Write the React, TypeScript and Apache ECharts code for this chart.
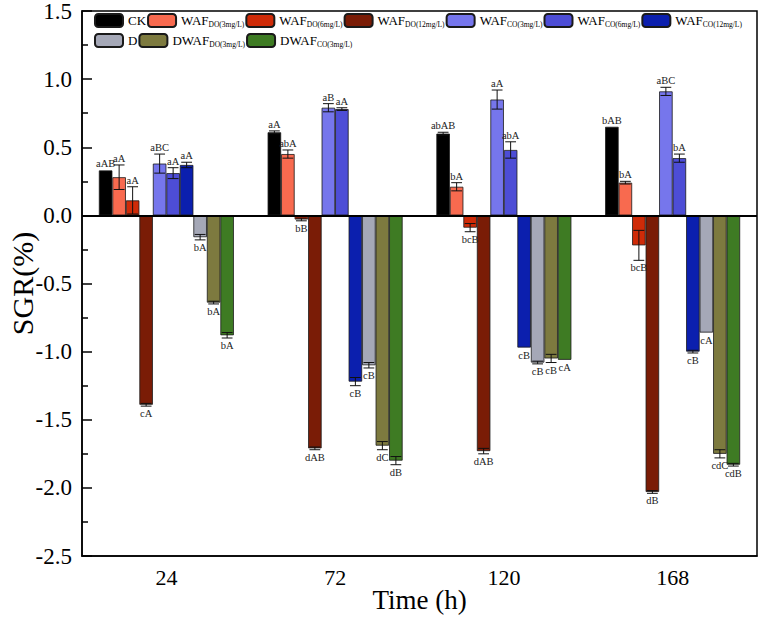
import React, { useEffect, useRef } from 'react';
import * as echarts from 'echarts';

// Time points (h)
const times = ['24', '72', '120', '168'];

const seriesNames = [
  'CK',
  'WAF_DO(3mg/L)',
  'WAF_DO(6mg/L)',
  'WAF_DO(12mg/L)',
  'WAF_CO(3mg/L)',
  'WAF_CO(6mg/L)',
  'WAF_CO(12mg/L)',
  'D',
  'DWAF_DO(3mg/L)',
  'DWAF_CO(3mg/L)',
];

const colors = [
  '#000000', '#f86a4f', '#cf2b08', '#7a1c06', '#7676ec',
  '#4d4dd6', '#0b1fae', '#a5a8b7', '#7d7a3f', '#3e7b23',
];

// SGR means (%)
const ck = [0.33, 0.61, 0.6, 0.65];
const wafDo3 = [0.28, 0.45, 0.21, 0.24];
const wafDo6 = [0.11, -0.03, -0.09, -0.22];
const wafDo12 = [-1.39, -1.71, -1.73, -2.03];
const wafCo3 = [0.38, 0.79, 0.85, 0.91];
const wafCo6 = [0.31, 0.78, 0.48, 0.42];
const wafCo12 = [0.37, -1.22, -0.97, -1.0];
const d = [-0.16, -1.1, -1.08, -0.86];
const dwafDo3 = [-0.64, -1.69, -1.05, -1.75];
const dwafCo3 = [-0.88, -1.8, -1.06, -1.83];

// error bars
const ckErr = [0, 0.01, 0.01, 0];
const wafDo3Err = [0.09, 0.03, 0.03, 0.01];
const wafDo6Err = [0.1, 0.01, 0.03, 0.11];
const wafDo12Err = [0.01, 0.01, 0.02, 0.01];
const wafCo3Err = [0.07, 0.03, 0.07, 0.03];
const wafCo6Err = [0.04, 0.01, 0.06, 0.03];
const wafCo12Err = [0.02, 0.03, 0, 0.01];
const dErr = [0.02, 0.02, 0.01, 0];
const dwafDo3Err = [0.01, 0.03, 0.03, 0.03];
const dwafCo3Err = [0.02, 0.03, 0, 0.01];

// significance letters
const ckSig = ['aAB', 'aA', 'abAB', 'bAB'];
const wafDo3Sig = ['aA', 'abA', 'bA', 'bA'];
const wafDo6Sig = ['aA', 'bB', 'bcB', 'bcB'];
const wafDo12Sig = ['cA', 'dAB', 'dAB', 'dB'];
const wafCo3Sig = ['aBC', 'aB', 'aA', 'aBC'];
const wafCo6Sig = ['aA', 'aA', 'abA', 'bA'];
const wafCo12Sig = ['aA', 'cB', 'cB', 'cB'];
const dSig = ['bA', 'cB', 'cB', 'cA'];
const dwafDo3Sig = ['bA', 'dC', 'cB', 'cdC'];
const dwafCo3Sig = ['bA', 'dB', 'cA', 'cdB'];

const values = [ck, wafDo3, wafDo6, wafDo12, wafCo3, wafCo6, wafCo12, d, dwafDo3, dwafCo3];
const errors = [ckErr, wafDo3Err, wafDo6Err, wafDo12Err, wafCo3Err, wafCo6Err, wafCo12Err, dErr, dwafDo3Err, dwafCo3Err];
const letters = [ckSig, wafDo3Sig, wafDo6Sig, wafDo12Sig, wafCo3Sig, wafCo6Sig, wafCo12Sig, dSig, dwafDo3Sig, dwafCo3Sig];

const FONT = '"Liberation Serif", "Times New Roman", serif';
const CAT_GAP = 0.2;

const App: React.FC = () => {
  const chartRef = useRef<HTMLDivElement | null>(null);

  useEffect(() => {
    document.body.style.margin = '0';
    if (!chartRef.current) return;
    const chart = echarts.init(chartRef.current, undefined, { renderer: 'svg' });

    const errData: number[][] = [];
    values.forEach((vals, si) => vals.forEach((v, ci) => errData.push([ci, si, v, errors[si][ci]])));

    const legendFormatter = (name: string) => {
      const [main, sub] = name.split('_');
      return sub ? `{m|${main}}{s|${sub}}` : `{m|${main}}`;
    };
    const legendText = {
      fontFamily: FONT,
      fontSize: 13,
      color: '#000',
      rich: {
        m: { fontFamily: FONT, fontSize: 13, color: '#000' },
        s: { fontFamily: FONT, fontSize: 7.5, color: '#000', padding: [7, 0, 0, 0] },
      },
    };

    const option = {
      animation: false,
      textStyle: { fontFamily: FONT },
      legend: [
        {
          data: seriesNames.slice(0, 7),
          left: 94,
          top: 13,
          padding: 0,
          itemGap: 1,
          itemWidth: 28,
          itemHeight: 13,
          formatter: legendFormatter,
          textStyle: legendText,
        },
        {
          data: seriesNames.slice(7),
          left: 94,
          top: 33,
          padding: 0,
          itemGap: 1,
          itemWidth: 28,
          itemHeight: 13,
          formatter: legendFormatter,
          textStyle: legendText,
        },
      ],
      grid: {
        left: 82,
        right: 5,
        top: 11,
        bottom: 65,
        outerBoundsMode: 'none',
        containLabel: false,
        show: true,
        borderColor: '#000',
        borderWidth: 1.5,
        backgroundColor: 'transparent',
      },
      xAxis: [
        {
          type: 'category',
          data: times,
          name: 'Time (h)',
          nameLocation: 'middle',
          nameGap: 30,
          nameMoveOverlap: false,
          nameTextStyle: { fontFamily: FONT, fontSize: 27, color: '#000' },
          axisLine: { onZero: false, lineStyle: { color: '#000', width: 1.5 } },
          axisTick: { alignWithLabel: true, inside: true, length: 8, lineStyle: { color: '#000', width: 1.5 } },
          axisLabel: { fontFamily: FONT, fontSize: 22, color: '#000', margin: 10 },
          splitLine: { show: false },
        },
        {
          type: 'category',
          data: times,
          position: 'bottom',
          axisLine: { show: false, onZero: false },
          axisTick: { inside: true, length: 5, lineStyle: { color: '#000', width: 1.5 } },
          axisLabel: { show: false },
          splitLine: { show: false },
        },
      ],
      yAxis: {
        type: 'value',
        min: -2.5,
        max: 1.5,
        interval: 0.5,
        name: 'SGR(%)',
        nameLocation: 'middle',
        nameGap: 45,
        nameMoveOverlap: false,
        nameTextStyle: { fontFamily: FONT, fontSize: 30, color: '#000' },
        axisLine: { show: true, lineStyle: { color: '#000', width: 1.5 } },
        axisTick: { show: true, inside: true, length: 10, lineStyle: { color: '#000', width: 1.5 } },
        minorTick: { show: true, splitNumber: 2, length: 6, lineStyle: { color: '#000', width: 1.5 } },
        axisLabel: {
          fontFamily: FONT,
          fontSize: 23,
          color: '#000',
          margin: 10,
          formatter: (v: number) => v.toFixed(1),
        },
        splitLine: { show: false },
      },
      series: [
        ...seriesNames.map((name, si) => ({
          name,
          type: 'bar',
          data: values[si],
          barGap: '0%',
          barCategoryGap: `${CAT_GAP * 100}%`,
          itemStyle: { color: colors[si], borderColor: '#1a1a1a', borderWidth: 0.8 },
          markLine:
            si === 0
              ? {
                  silent: true,
                  symbol: ['none', 'none'],
                  label: { show: false },
                  lineStyle: { color: '#000', width: 2, type: 'solid' },
                  data: [{ yAxis: 0 }],
                }
              : undefined,
        })),
        {
          type: 'custom',
          z: 5,
          data: errData,
          encode: { x: 0, y: 2 },
          renderItem: (_params: any, api: any) => {
            const ci = api.value(0);
            const si = api.value(1);
            const v = api.value(2);
            const e = api.value(3);
            const band = api.size([1, 0])[0];
            const bw = (band * (1 - CAT_GAP)) / seriesNames.length;
            const cx = api.coord([ci, 0])[0] + (si - (seriesNames.length - 1) / 2) * bw;
            const yHi = api.coord([ci, v + e])[1];
            const yLo = api.coord([ci, v - e])[1];
            const capHalf = bw * 0.4;
            const stroke = { stroke: '#111', lineWidth: 1 };
            const children: any[] = [];
            if (e > 0) {
              children.push(
                { type: 'line', shape: { x1: cx, y1: yHi, x2: cx, y2: yLo }, style: stroke },
                { type: 'line', shape: { x1: cx - capHalf, y1: yHi, x2: cx + capHalf, y2: yHi }, style: stroke },
                { type: 'line', shape: { x1: cx - capHalf, y1: yLo, x2: cx + capHalf, y2: yLo }, style: stroke },
              );
            }
            const pos = v >= 0;
            children.push({
              type: 'text',
              style: {
                text: letters[si][ci],
                x: cx,
                y: pos ? yHi - 1 : yLo + 2,
                align: 'center',
                verticalAlign: pos ? 'bottom' : 'top',
                font: `10.5px ${FONT}`,
                fill: '#222',
              },
            });
            return { type: 'group', children };
          },
        },
      ],
    };

    chart.setOption(option as any);
    return () => {
      chart.dispose();
    };
  }, []);

  return <div ref={chartRef} style={{ width: 762, height: 621 }} />;
};

export default App;
